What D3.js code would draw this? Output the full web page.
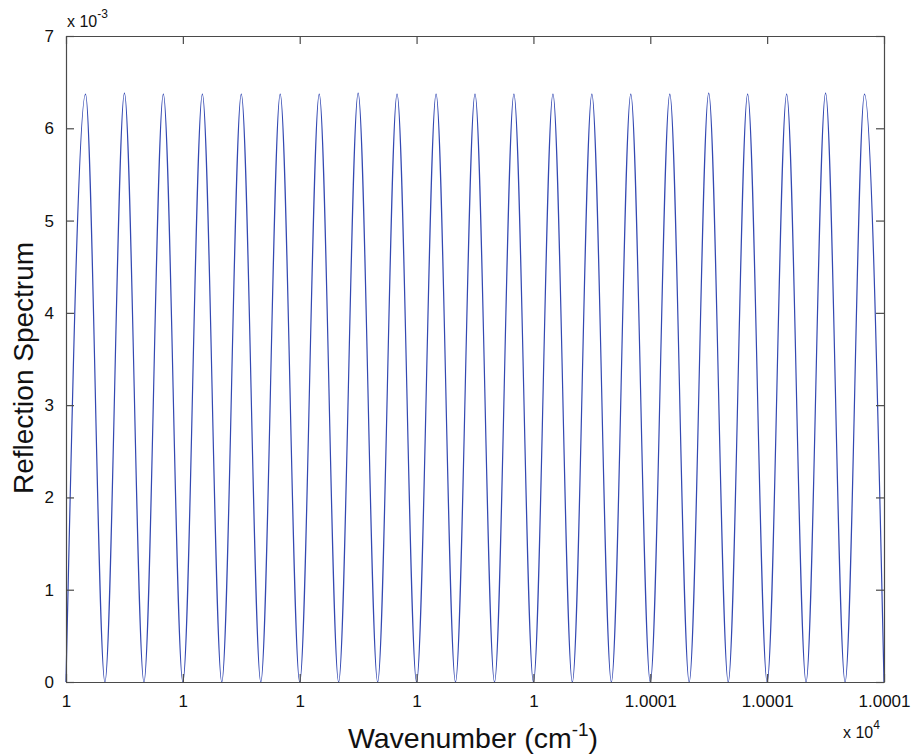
<!DOCTYPE html>
<html>
<head>
<meta charset="utf-8">
<script src="https://cdn.jsdelivr.net/npm/d3@7"></script>
<style>
  html, body { margin: 0; padding: 0; background: #fff; }
  svg { display: block; font-family: "Liberation Sans", Arial, Helvetica, sans-serif; }
</style>
</head>
<body>
<svg id="chart" width="913" height="756"></svg>
<script>
// Wavenumber (cm^-1) at each successive trough / peak of the reflection fringes
const wavenumber = [
  10000.45000, 10000.45167, 10000.45333, 10000.45500, 10000.45667, 10000.45833,
  10000.46000, 10000.46167, 10000.46333, 10000.46500, 10000.46667, 10000.46833,
  10000.47000, 10000.47167, 10000.47333, 10000.47500, 10000.47667, 10000.47833,
  10000.48000, 10000.48167, 10000.48333, 10000.48500, 10000.48667, 10000.48833,
  10000.49000, 10000.49167, 10000.49333, 10000.49500, 10000.49667, 10000.49833,
  10000.50000, 10000.50167, 10000.50333, 10000.50500, 10000.50667, 10000.50833,
  10000.51000, 10000.51167, 10000.51333, 10000.51500, 10000.51667, 10000.51833,
  10000.52000
];
// Reflection at those wavenumbers (zeros at the troughs, maxima at the peaks)
const reflection = [
  0, 0.00637, 0, 0.00638, 0, 0.00637,
  0, 0.00637, 0, 0.00637, 0, 0.00637,
  0, 0.00637, 0, 0.00638, 0, 0.00637,
  0, 0.00637, 0, 0.00637, 0, 0.00637,
  0, 0.00637, 0, 0.00637, 0, 0.00637,
  0, 0.00637, 0, 0.00638, 0, 0.00637,
  0, 0.00637, 0, 0.00638, 0, 0.00637,
  0
];

const xTicks = [10000.45, 10000.46, 10000.47, 10000.48, 10000.49, 10000.50, 10000.51, 10000.52];
const xTickLabels = ["1", "1", "1", "1", "1", "1.0001", "1.0001", "1.0001"];
const yTicks = [0, 0.001, 0.002, 0.003, 0.004, 0.005, 0.006, 0.007];
const yTickLabels = ["0", "1", "2", "3", "4", "5", "6", "7"];

const margin = { left: 66, top: 36, right: 29, bottom: 74 };
const W = 913, H = 756;
const plotW = W - margin.left - margin.right;
const plotH = H - margin.top - margin.bottom;

const svg = d3.select("#chart");
const g = svg.append("g").attr("transform", `translate(${margin.left},${margin.top})`);

const x = d3.scaleLinear().domain([xTicks[0], xTicks[xTicks.length - 1]]).range([0, plotW]);
const y = d3.scaleLinear().domain([0, 0.007]).range([plotH, 0]);

const axisColor = "#4a4a4a";
const tickLen = 8;

// Fringe curve
const line = d3.line()
  .x((d, i) => x(wavenumber[i]))
  .y(d => y(d))
  .curve(d3.curveMonotoneX);

g.append("path")
  .datum(reflection)
  .attr("fill", "none")
  .attr("stroke", "#3348b2")
  .attr("stroke-width", 1.2)
  .attr("d", line);

// Axes: ticks point inward on all four sides
const styleAxis = sel => {
  sel.select(".domain").attr("stroke", axisColor).attr("stroke-width", 1.2);
  sel.selectAll(".tick line").attr("stroke", axisColor).attr("stroke-width", 1.2);
  sel.selectAll(".tick text").attr("fill", "#111").style("font-size", "17px");
};

const xBottom = g.append("g")
  .attr("transform", `translate(0,${plotH})`)
  .call(d3.axisBottom(x).tickValues(xTicks).tickSizeInner(-tickLen).tickSizeOuter(0).tickPadding(13)
    .tickFormat((d, i) => xTickLabels[i]));
styleAxis(xBottom);

const xTop = g.append("g")
  .call(d3.axisTop(x).tickValues(xTicks).tickSizeInner(-tickLen).tickSizeOuter(0).tickFormat(""));
styleAxis(xTop);

const yLeft = g.append("g")
  .call(d3.axisLeft(y).tickValues(yTicks).tickSizeInner(-tickLen).tickSizeOuter(0).tickPadding(12)
    .tickFormat((d, i) => yTickLabels[i]));
styleAxis(yLeft);

const yRight = g.append("g")
  .attr("transform", `translate(${plotW},0)`)
  .call(d3.axisRight(y).tickValues(yTicks).tickSizeInner(-tickLen).tickSizeOuter(0).tickFormat(""));
styleAxis(yRight);

// Exponent multipliers
const yExp = svg.append("text")
  .attr("x", margin.left + 1).attr("y", 27)
  .attr("fill", "#111").style("font-size", "16px");
yExp.append("tspan").text("x 10");
yExp.append("tspan").attr("dy", -9).style("font-size", "12px").text("-3");

const xExp = svg.append("text")
  .attr("x", 843).attr("y", 738)
  .attr("fill", "#111").style("font-size", "16px");
xExp.append("tspan").text("x 10");
xExp.append("tspan").attr("dy", -9).style("font-size", "12px").text("4");

// Axis titles
const xTitle = svg.append("text")
  .attr("x", 473).attr("y", 748)
  .attr("text-anchor", "middle")
  .attr("fill", "#111").style("font-size", "28.5px");
xTitle.append("tspan").text("Wavenumber (cm");
xTitle.append("tspan").attr("dy", -12).style("font-size", "19px").text("-1");
xTitle.append("tspan").attr("dy", 12).text(")");

svg.append("text")
  .attr("transform", `translate(33,368) rotate(-90)`)
  .attr("text-anchor", "middle")
  .attr("fill", "#111").style("font-size", "28px")
  .text("Reflection Spectrum");
</script>
</body>
</html>
